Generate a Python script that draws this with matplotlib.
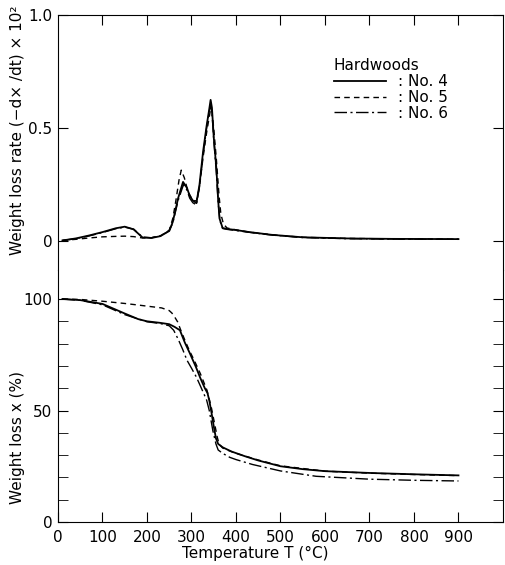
import matplotlib
matplotlib.use("Agg")
import matplotlib.pyplot as plt
from matplotlib.ticker import FixedLocator

# --- top panel: weight loss rate (-dx/dt) x 10^2 vs temperature (C) ---
t_rate_4 = [10, 40, 70, 100, 130, 150, 170, 190, 210, 230, 250, 258, 270, 281, 290, 296, 303, 311,
            318, 326, 334, 340, 343, 346, 350, 356, 360, 363, 370, 380, 400, 430, 480, 550, 650, 750, 900]
rate_4 = [0.003, 0.012, 0.025, 0.040, 0.057, 0.064, 0.052, 0.016, 0.014, 0.022, 0.045, 0.085, 0.19, 0.262,
          0.235, 0.20, 0.18, 0.168, 0.25, 0.395, 0.51, 0.585, 0.625, 0.59, 0.46, 0.32, 0.18, 0.10, 0.058,
          0.054, 0.049, 0.040, 0.028, 0.017, 0.012, 0.010, 0.009]

t_rate_5 = [10, 40, 70, 100, 130, 150, 170, 190, 210, 230, 250, 258, 265, 272, 277, 284, 292, 303, 311,
            318, 326, 334, 340, 343, 346, 350, 356, 362, 366, 372, 380, 400, 430, 480, 550, 650, 750, 900]
rate_5 = [0.003, 0.008, 0.014, 0.019, 0.021, 0.022, 0.020, 0.014, 0.015, 0.023, 0.048, 0.10, 0.18, 0.27,
          0.314, 0.28, 0.22, 0.18, 0.178, 0.24, 0.37, 0.48, 0.55, 0.585, 0.57, 0.50, 0.36, 0.20, 0.12, 0.075,
          0.058, 0.050, 0.040, 0.028, 0.017, 0.012, 0.010, 0.009]

t_rate_6 = [10, 40, 70, 100, 130, 150, 170, 190, 210, 230, 250, 258, 270, 282, 290, 296, 303, 311,
            318, 326, 334, 340, 343, 346, 350, 356, 360, 364, 370, 380, 400, 430, 480, 550, 650, 750, 900]
rate_6 = [0.003, 0.011, 0.023, 0.038, 0.055, 0.062, 0.053, 0.018, 0.015, 0.023, 0.046, 0.08, 0.18, 0.25,
          0.225, 0.19, 0.17, 0.16, 0.24, 0.38, 0.50, 0.575, 0.60, 0.57, 0.45, 0.30, 0.17, 0.09, 0.056,
          0.052, 0.047, 0.039, 0.027, 0.016, 0.011, 0.009, 0.008]

# --- bottom panel: weight loss x (%) vs temperature (C) ---
t_w_4 = [10, 50, 100, 150, 180, 200, 230, 250, 262, 274, 285, 296, 310, 320, 330, 336, 340, 345, 350,
         355, 360, 370, 390, 420, 450, 500, 550, 600, 700, 800, 900]
w_4 = [100, 99.5, 97.8, 93.5, 91, 90, 89.3, 88.7, 87.5, 86, 80.5, 75.8, 69.5, 64.5, 60, 57.8, 54.5, 49,
       43, 37.5, 35, 33.5, 31.6, 29.5, 27.6, 25, 23.7, 22.8, 22.0, 21.4, 20.9]

t_w_5 = [10, 50, 100, 150, 180, 200, 233, 250, 256, 262, 269, 275, 285, 295, 305, 320, 335, 345, 352,
         358, 362, 370, 380, 400, 450, 500, 600, 700, 800, 900]
w_5 = [100, 99.8, 99, 98, 97.3, 96.8, 96, 94.8, 93.7, 92, 89.7, 86.5, 81.6, 77, 73, 66.5, 59, 51, 44,
       38, 35, 33.2, 32.3, 30.8, 27.8, 25.2, 22.8, 21.9, 21.3, 20.8]

t_w_6 = [10, 50, 100, 150, 200, 230, 250, 260, 270, 280, 290, 300, 311, 320, 334, 340, 348, 355, 360,
         370, 386, 400, 437, 500, 580, 700, 800, 900]
w_6 = [100, 99.4, 97.4, 93, 89.8, 89, 88, 86, 82, 77.5, 72.5, 69, 65, 61, 54.7, 50, 41, 35, 32.3,
       30.8, 29, 28, 25.8, 22.9, 20.5, 19.2, 18.7, 18.4]

x_ticks = list(range(0, 1000, 100))
w_minor = list(range(10, 100, 10))
labels = [": No. 4", ": No. 5", ": No. 6"]

plt.rcParams["font.family"] = "DejaVu Sans"
plt.rcParams["font.size"] = 11

fig = plt.figure(figsize=(5.06, 5.65), dpi=100)
ax_top = fig.add_axes([0.1146, 0.522, 0.8794, 0.4513])
ax_bot = fig.add_axes([0.1146, 0.0761, 0.8794, 0.446])

styles = [dict(ls="-", lw=1.3),
          dict(ls=(0, (4, 3)), lw=1.0),
          dict(ls=(0, (9, 2.5, 1.5, 2.5)), lw=1.0)]

for t, r, st, lab in zip([t_rate_4, t_rate_5, t_rate_6], [rate_4, rate_5, rate_6], styles, labels):
    ax_top.plot(t, r, color="black", label=lab, **st)

for t, w, st in zip([t_w_4, t_w_5, t_w_6], [w_4, w_5, w_6], styles):
    ax_bot.plot(t, w, color="black", **st)

# top panel
ax_top.set_xlim(0, 1000)
ax_top.set_ylim(-0.128, 1.0)
ax_top.spines["bottom"].set_visible(False)
ax_top.set_xticks(x_ticks[1:])
ax_top.tick_params(axis="x", bottom=False, top=True, labelbottom=False, direction="in", length=7)
ax_top.set_yticks([0, 0.5, 1.0])
ax_top.set_yticklabels(["0", "0.5", "1.0"])
ax_top.tick_params(axis="y", left=True, right=True, direction="in", length=7, pad=4)
ax_top.set_ylabel("Weight loss rate (−d× /dt) × 10²")
ax_top.yaxis.set_label_coords(-0.074, 0.55)

leg = ax_top.legend(title="Hardwoods", loc="upper left", bbox_to_anchor=(0.62, 0.83),
                    frameon=False, handlelength=3.4, handletextpad=0.8, labelspacing=0.05,
                    borderpad=0, borderaxespad=0, alignment="left", fontsize=11, title_fontsize=11)

# bottom panel
ax_bot.set_xlim(0, 1000)
ax_bot.set_ylim(0, 113)
ax_bot.spines["top"].set_visible(False)
ax_bot.set_xticks(x_ticks)
ax_bot.set_xticklabels([str(v) for v in x_ticks])
ax_bot.tick_params(axis="x", top=False, direction="in", length=7, pad=6)
ax_bot.set_yticks([0, 50, 100])
ax_bot.yaxis.set_minor_locator(FixedLocator(w_minor))
ax_bot.tick_params(axis="y", which="both", left=True, right=True, direction="in", length=7, pad=4)
ax_bot.set_ylabel("Weight loss x (%)")
ax_bot.yaxis.set_label_coords(-0.074, 0.337)
ax_bot.set_xlabel("Temperature T (°C)")
ax_bot.xaxis.set_label_coords(0.443, -0.095)

fig.savefig("out.png", dpi=100)
